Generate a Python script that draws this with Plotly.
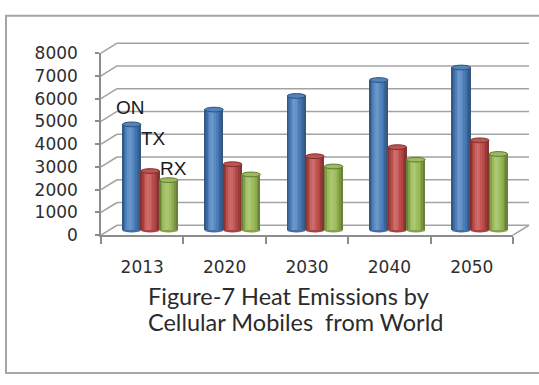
import plotly.graph_objects as go

# ---- data -------------------------------------------------------------
years = ["2013", "2020", "2030", "2040", "2050"]
on_vals = [4650, 5300, 5900, 6600, 7150]
tx_vals = [2600, 2900, 3250, 3650, 3950]
rx_vals = [2200, 2450, 2800, 3100, 3350]
series_names = ["ON", "TX", "RX"]
y_ticks = [0, 1000, 2000, 3000, 4000, 5000, 6000, 7000, 8000]
title_lines = ["Figure-7 Heat Emissions by", "Cellular Mobiles  from World"]

# ---- page geometry (pixels) -----------------------------------------
W, H = 539, 385
YMAX = 8000
SCALE = (237.5 - 45.5) / YMAX          # px per value unit
CAT_PX = (513 - 101) / len(years)      # px per category
DEPTH_X, DEPTH_Y = 16.0, 10.5          # 3-D depth offset of the back wall
dxu = DEPTH_X / CAT_PX
dyu = DEPTH_Y / SCALE


def fx(p):
    return p / W


def fy(p):
    return 1 - p / H


def shade(hex_color, f):
    r, g, b = (int(hex_color[i:i + 2], 16) for i in (1, 3, 5))
    if f >= 0:
        r, g, b = (int(c + (255 - c) * f) for c in (r, g, b))
    else:
        r, g, b = (int(c * (1 + f)) for c in (r, g, b))
    return f"rgb({r},{g},{b})"


colors = ["#4a7ebb", "#be4b48", "#98b954"]
values = [on_vals, tx_vals, rx_vals]

fig = go.Figure()

# ---- 3-D frame: back wall gridlines, side wall diagonals, floor edge --
pad = 3
gx, gy = [], []
for v in y_ticks:
    gx += [-0.5 + dxu, len(years) - 0.5 + dxu, None]
    gy += [v, v, None]
    gx += [-0.5, -0.5 + dxu, None]
    gy += [v - dyu, v, None]
gx += [len(years) - 0.5, len(years) - 0.5 + dxu, None]
gy += [-dyu, 0, None]
fig.add_trace(go.Scatter(x=gx, y=gy, mode="lines", xaxis="x", yaxis="y",
                         line=dict(color="#a3a3a3", width=1.6),
                         hoverinfo="skip", showlegend=False))

# ---- cylinders (mid depth plane) --------------------------------------
bar_w = 0.225
offsets = [-0.3375, -0.1125, 0.1125]
profile = [-0.30, -0.14, 0.02, 0.14, 0.20, 0.16, 0.08, 0.0, -0.08, -0.20, -0.30]
n = len(profile)
xs = list(range(len(years)))
for s, (vals, col, off) in enumerate(zip(values, colors, offsets)):
    for k, f in enumerate(profile):
        fig.add_trace(go.Bar(
            x=xs, y=vals, base=0, xaxis="x2", yaxis="y2",
            width=bar_w / n * 1.05, offset=off + bar_w * k / n,
            marker=dict(color=shade(col, f), line=dict(width=0)),
            hoverinfo="skip", showlegend=False))

cap_h = 5.0 / SCALE
for vals, col, off in zip(values, colors, offsets):
    for i, v in enumerate(vals):
        # rounded bottom
        fig.add_shape(type="circle", xref="x2", yref="y2", layer="below",
                      x0=i + off, x1=i + off + bar_w,
                      y0=-cap_h / 2, y1=cap_h / 2,
                      fillcolor=shade(col, -0.12), line=dict(width=0))
        # top cap
        fig.add_shape(type="circle", xref="x2", yref="y2", layer="above",
                      x0=i + off, x1=i + off + bar_w,
                      y0=v - cap_h / 2, y1=v + cap_h / 2,
                      fillcolor=shade(col, 0.04),
                      line=dict(color=shade(col, -0.35), width=1))

# series name labels on the first group
label_shift = [(-1.5, 16.5), (3, 32.5), (5, 11.5)]
for name, vals, off, (sx, sy) in zip(series_names, values, offsets, label_shift):
    fig.add_annotation(x=0 + off + bar_w / 2, y=vals[0], xref="x2", yref="y2",
                       text=name, showarrow=False, xshift=sx, yshift=sy,
                       font=dict(family="Liberation Sans", size=19, color="#1a1a1a"))

# ---- front axes -------------------------------------------------------
fig.add_trace(go.Scatter(x=years, y=[None] * len(years), xaxis="x3", yaxis="y3",
                         mode="markers", hoverinfo="skip", showlegend=False))

for i, line in enumerate(title_lines):
    fig.add_annotation(x=fx(146), y=fy(302 + 27 * i), xref="paper", yref="paper",
                       xanchor="left", yanchor="middle", text=line, showarrow=False,
                       font=dict(family="Lato", size=23.5, color="#2b2b2b"))

# chart border
fig.add_shape(type="rect", xref="paper", yref="paper",
              x0=fx(6), x1=fx(W + 10), y0=fy(383), y1=fy(6),
              line=dict(color="#a6a6a6", width=2))

tick_font = dict(family="DejaVu Sans", size=17, color="#2e2e2e")
axis_grey = "#8c8c8c"
bar_pad = 300

fig.update_layout(
    width=W, height=H,
    margin=dict(l=0, r=0, t=0, b=0),
    paper_bgcolor="white", plot_bgcolor="rgba(0,0,0,0)",
    barmode="overlay", bargap=0,
    xaxis=dict(domain=[fx(101 - pad), fx(529 + pad)],
               range=[-0.5 - pad / CAT_PX, len(years) - 0.5 + dxu + pad / CAT_PX],
               visible=False, fixedrange=True),
    yaxis=dict(domain=[fy(237.5 + pad), fy(35 - pad)],
               range=[-dyu - pad / SCALE, YMAX + pad / SCALE],
               visible=False, fixedrange=True),
    xaxis2=dict(domain=[fx(109), fx(521)], range=[-0.5, len(years) - 0.5],
                visible=False, anchor="y2"),
    yaxis2=dict(domain=[fy(232.25 + bar_pad * SCALE), fy(232.25 - (YMAX + bar_pad) * SCALE)],
                range=[-bar_pad, YMAX + bar_pad], visible=False, anchor="x2"),
    xaxis3=dict(domain=[fx(101), fx(513)], anchor="y3", type="category",
                categoryorder="array", categoryarray=years,
                range=[-0.5, len(years) - 0.5],
                showline=True, linecolor=axis_grey, linewidth=1.5,
                ticks="outside", tickson="boundaries", ticklen=7,
                tickcolor=axis_grey, tickwidth=1.5,
                showgrid=False, zeroline=False, tickfont=tick_font,
                ticklabelstandoff=16),
    yaxis3=dict(domain=[fy(237.5), fy(45.5)], anchor="x3", range=[0, YMAX],
                tickvals=y_ticks, showline=True, linecolor=axis_grey, linewidth=1.5,
                ticks="outside", ticklen=4, tickcolor=axis_grey, tickwidth=1.5,
                showgrid=False, zeroline=False, tickfont=tick_font,
                ticklabelstandoff=14),
)

fig.write_html("out.html")
